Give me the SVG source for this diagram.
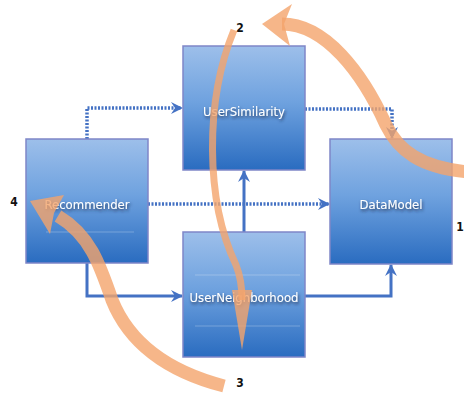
<svg xmlns="http://www.w3.org/2000/svg" width="464" height="394" viewBox="0 0 464 394">
<defs>
<linearGradient id="boxg" x1="0" y1="0" x2="0" y2="1">
<stop offset="0" stop-color="#9dbfea"/>
<stop offset="0.45" stop-color="#6fa2df"/>
<stop offset="1" stop-color="#2a6cc0"/>
</linearGradient>
<filter id="sh" x="-10%" y="-30%" width="120%" height="170%">
<feDropShadow dx="1" dy="2" stdDeviation="1.5" flood-color="#1a2a4a" flood-opacity="0.85"/>
</filter>
<marker id="ah" markerUnits="userSpaceOnUse" viewBox="0 0 12 12" refX="11" refY="6" markerWidth="12" markerHeight="12" orient="auto">
<path d="M0,0 L12,6 L0,12 L4,6 z" fill="#4472c4"/>
</marker>
<style>
.box{fill:url(#boxg);stroke:#7f86c8;stroke-width:1.5}
.hl{stroke:#ffffff;stroke-opacity:0.25;stroke-width:1}
.lbl{font-family:"DejaVu Sans Condensed","Liberation Sans",sans-serif;font-size:13px;fill:#ffffff;text-anchor:middle;dominant-baseline:central;filter:url(#sh)}
.num{font-family:"DejaVu Sans Condensed","Liberation Sans",sans-serif;font-weight:bold;font-size:12px;fill:#111111;text-anchor:middle;dominant-baseline:central}
.dot{fill:none;stroke:#4472c4;stroke-width:3.5;stroke-dasharray:2 1.5}
.sol{fill:none;stroke:#4472c4;stroke-width:3}
.band{fill:none;stroke:#f4a46c;stroke-opacity:0.8;stroke-linecap:butt}
.bhead{fill:#f4a46c;fill-opacity:0.8}
</style>
</defs>
<rect width="464" height="394" fill="#ffffff"/>
<g id="connectors">
<path class="dot" d="M87,139 V108 H182" marker-end="url(#ah)"/>
<path class="dot" d="M305,109 H392 V138" marker-end="url(#ah)"/>
<path class="dot" d="M148,204 H329" marker-end="url(#ah)"/>
<path class="sol" d="M244,232 V171" marker-end="url(#ah)"/>
<path class="sol" d="M87,263 V296 H182" marker-end="url(#ah)"/>
<path class="sol" d="M305,296 H391 V265" marker-end="url(#ah)"/>
</g>
<g id="UserSimilarity">
<rect class="box" x="183" y="46" width="122" height="124"/>
<text class="lbl" x="244" y="111">UserSimilarity</text>
</g>
<g id="Recommender">
<rect class="box" x="26" y="139" width="122" height="124"/>
<line class="hl" x1="46" y1="232" x2="134" y2="232"/>
<text class="lbl" x="87" y="204">Recommender</text>
</g>
<g id="DataModel">
<rect class="box" x="330" y="139" width="122" height="125"/>
<text class="lbl" x="391" y="204">DataModel</text>
</g>
<g id="UserNeighborhood">
<rect class="box" x="183" y="232" width="122" height="125"/>
<line class="hl" x1="195" y1="275" x2="300" y2="275"/>
<line class="hl" x1="195" y1="326" x2="300" y2="326"/>
<text class="lbl" x="244" y="297">UserNeighborhood</text>
</g>
<g id="flow">
<path class="band" stroke-width="13" d="M470,172 C420,168 398,150 386,125 C362,72 325,24 282,24"/>
<polygon class="bhead" points="262,24 292,4 284,24 290,46"/>
<path class="band" stroke-width="13" d="M224,386 C170,372 130,345 112,300 C100,265 90,235 58,216"/>
<polygon class="bhead" points="30,201 64,195 54,213 50,234"/>
<path class="band" stroke-width="7" d="M234,30 C205,100 205,200 236,265 C240,275 242,285 242,300"/>
<polygon class="bhead" points="232,290 252,290 242,350"/>
</g>
<g id="labels">
<text class="num" x="240" y="28">2</text>
<text class="num" x="460" y="227">1</text>
<text class="num" x="240" y="383">3</text>
<text class="num" x="14" y="202">4</text>
</g>
</svg>
